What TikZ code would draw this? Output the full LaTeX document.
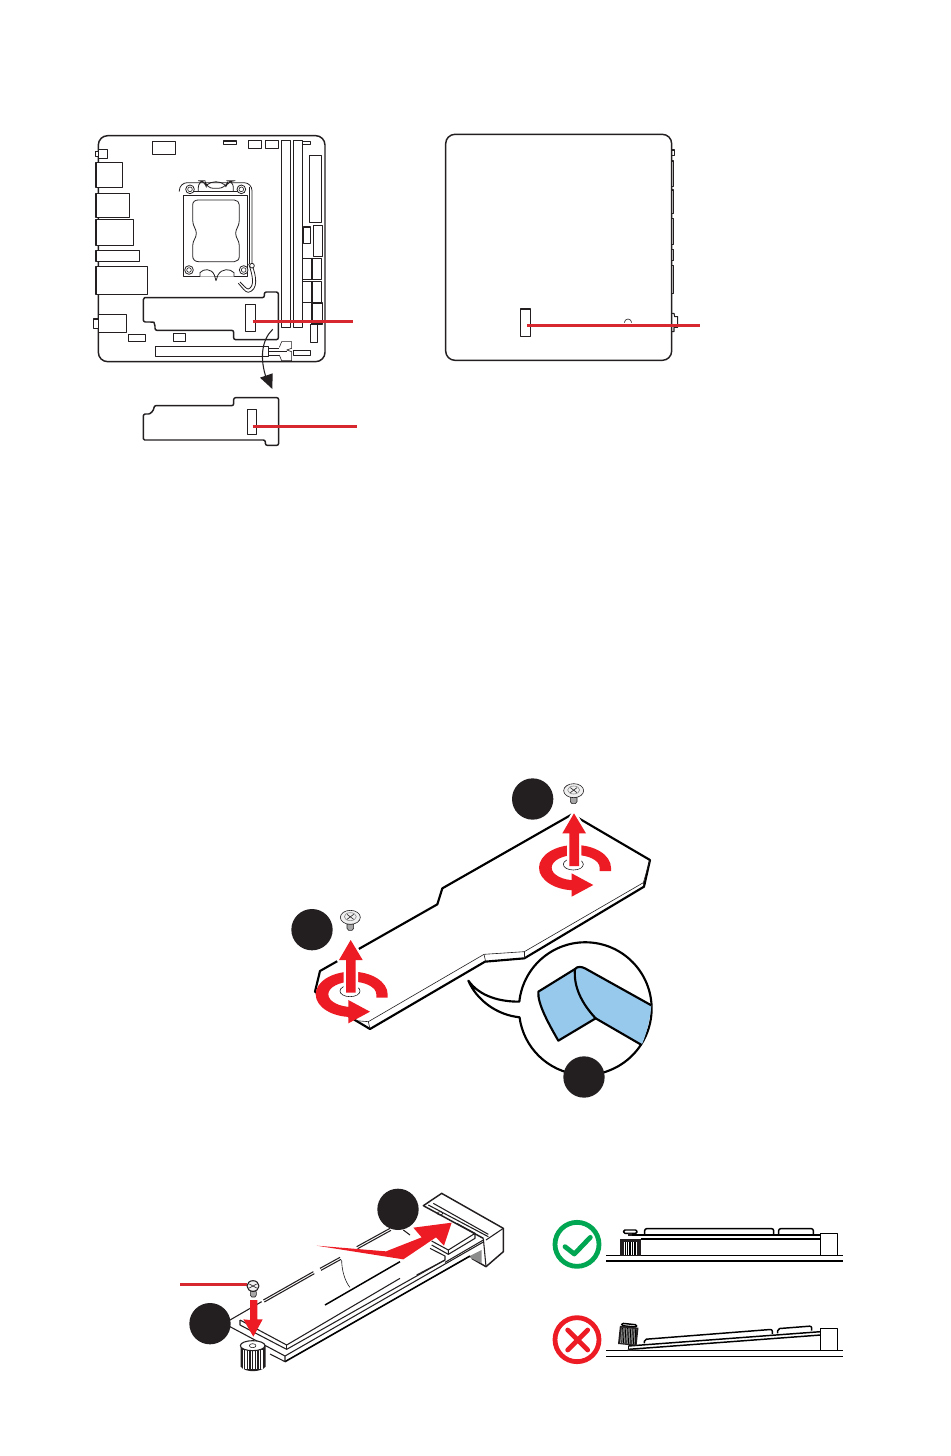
\documentclass[tikz,border=0pt]{standalone}
\definecolor{mred}{HTML}{ED1C24}
\definecolor{leadred}{HTML}{D7282F}
\definecolor{mblue}{HTML}{97C9EC}
\definecolor{mgreen}{HTML}{00A651}
\definecolor{mdark}{HTML}{231F20}
\begin{document}
\begin{tikzpicture}[x=0.75pt,y=-0.75pt,line join=round]
  \tikzstyle{outline}=[draw=mdark,line width=1.1pt]
  \tikzstyle{part}=[draw=mdark,line width=0.8pt]
  \tikzstyle{sock}=[draw=mdark,line width=0.6pt]
  \tikzstyle{thin}=[draw=mdark,line width=0.45pt]
  \tikzstyle{plate}=[draw=black,line width=1.6pt]
  \tikzstyle{leader}=[draw=leadred,line width=2pt]
  \tikzstyle{badge}=[circle,fill=mdark,minimum size=31pt,inner sep=0pt]
  \tikzstyle{redfill}=[fill=mred]
  \tikzstyle{halo}=[fill=mred,preaction={draw=white,line width=3.5pt}]
  \tikzstyle{base}=[draw=black,line width=1.1pt]
  \useasboundingbox (0,0) rectangle (950,1456);

  % board, front
  \begin{scope}[shift={(80,120)},scale=1/3]
    \draw[outline,rounded corners=7pt] (55,47) rectangle (735,725);
    \foreach \xa/\ya/\xb/\yb in {217/64/287/103,431/63/470/73,506/61/545/85,556/61/595/85,
      605/61/632/622,641/61/668/622,668/64/692/73,688/106/724/307,
      670/321/692/370,701/316/728/409,668/415/696/478,696/415/724/478,
      668/485/696/547,696/485/724/547,696/549/728/612,692/614/713/668,
      46/95/55/109,55/88/82/115,48/127/128/202,48/220/149/293,48/298/161/377,
      48/391/179/425,48/439/203/523,40/597/55/626,55/583/140/637,
      145/644/197/665,280/640/317/665,226/680/566/710,640/691/692/707,
      496/554/526/635}
      \draw[part,fill=white] (\xa,\ya) rectangle (\xb,\yb);
    % socket
    \draw[sock] (311,470) -- (311,225) -- (502,225) -- (502,470) -- cycle;
    \draw[sock,rounded corners=6pt] (298,215) -- (298,188) -- (516,188) -- (516,435);
    \draw[sock] (508,200) -- (508,432);
    \draw[sock] (320,215) -- (490,215);
    \draw[sock,rounded corners=5pt] (355,215) -- (355,182) -- (375,182) -- (380,205) -- (435,205) -- (445,182) -- (460,182) -- (460,215);
    \draw[sock] (380,195) .. controls (395,182) and (420,182) .. (435,195);
    \draw[sock] (338,255) .. controls (338,245) and (345,240) .. (355,240) -- (463,240)
      .. controls (472,240) and (478,247) .. (478,255) -- (478,300)
      .. controls (478,320) and (467,325) .. (467,340) .. controls (467,355) and (478,360) .. (478,378)
      -- (478,408) .. controls (478,418) and (472,425) .. (463,425) -- (355,425)
      .. controls (345,425) and (338,418) .. (338,408) -- (338,378)
      .. controls (338,360) and (349,355) .. (349,340) .. controls (349,325) and (338,320) .. (338,300) -- cycle;
    \foreach \c in {(330,208),(484,208),(327,450),(491,450)}{
      \draw[sock,fill=white] \c circle (13);
      \draw[thin] \c circle (7);
    }
    \draw[sock,fill=white] (360,470) -- (360,458) .. controls (370,445) and (395,445) .. (403,465) -- (408,482) -- (414,465)
      .. controls (425,445) and (450,445) .. (462,458) -- (462,470);
    \draw[sock] (516,435) .. controls (530,470) and (535,510) .. (505,517) .. controls (495,517) and (485,500) .. (475,490);
    \draw[sock] (506,432) .. controls (518,465) and (525,500) .. (505,507) .. controls (498,507) and (490,495) .. (480,486);
    \draw[sock,fill=white] (516,437) circle (7);
    % chipset link
    \draw[thin] (598,682) -- (605,665) -- (635,665) -- (635,685) -- (620,690) -- (635,695) -- (635,722) -- (605,722) -- (598,705);
    \draw[thin] (566,685) -- (598,685);
    \draw[thin] (566,695) -- (620,695);
    \draw[thin] (566,705) -- (598,705);
    % shield on board
    \draw[outline,fill=none,rounded corners=1.5pt] (190,606) -- (190,545) .. controls (190,538) and (194,533) .. (200,533)
      -- (553,533) -- (553,516) -- (595,516) -- (595,659) -- (461,659) -- (461,631) -- (225,631) -- (225,612)
      .. controls (222,607) and (215,606) .. (205,606) -- cycle;
    % shield taken off
    \draw[outline,rounded corners=1.5pt] (190,882) -- (190,950) .. controls (190,956) and (194,960) .. (200,960)
      -- (556,960) -- (556,976) -- (596,976) -- (596,833) -- (461,833) -- (461,857) -- (222,857)
      .. controls (222,870) and (212,882) .. (200,882) -- cycle;
    \draw[part] (502,868) rectangle (530,943);
    % arrow to removed shield
    \coordinate (liftA) at (578,628);
    \coordinate (liftB) at (560,778);
    \draw[part] (liftA) .. controls (545,660) and (538,715) .. (liftB);
    \fill[mdark] (540,773) -- (578,760) -- (577,807) -- cycle;
    \coordinate (leadA1) at (518,604);
    \coordinate (leadA2) at (820,604);
    \coordinate (leadB1) at (518,919);
    \coordinate (leadB2) at (832,919);
    \draw[leader] (leadA1) -- (leadA2);
    \draw[leader] (leadB1) -- (leadB2);
  \end{scope}

  % board, back
  \begin{scope}[shift={(430,120)},scale=1/3]
    \draw[outline,rounded corners=7pt] (47,43) rectangle (725,721);
    \draw[part] (271,567) rectangle (302,650);
    \draw[part] (725,90) -- (734,90) -- (734,107) -- (725,107);
    \foreach \ya/\yb in {123/200,210/280,295/373,388/422,436/520}
      \draw[part] (725,\ya) -- (730,\ya) -- (730,\yb) -- (725,\yb);
    \draw[part] (725,580) -- (732,580) -- (734,590) -- (743,590) -- (743,622) -- (732,622) -- (732,635) -- (725,635);
    \draw[thin] (583,608) arc[start angle=180,end angle=360,radius=11];
    \coordinate (leadC1) at (291,616);
    \coordinate (leadC2) at (810,616);
    \draw[leader] (leadC1) -- (leadC2);
  \end{scope}

  % removing the shield
  \begin{scope}[shift={(280,770)},scale=1/3]
    \draw[plate,fill=white] (120,603) -- (472,403) -- (487,355) -- (876,133) -- (1110,270) -- (1092,350)
      -- (733,565) -- (615,575) -- (270,777) -- (228,752) -- (205,738) -- (105,665) -- cycle;
    \draw[thin] (265,755) -- (612,553) -- (733,545) -- (1090,338) -- (1110,270);
    \draw[thin] (228,752) -- (265,755) -- (270,777);
    \draw[thin] (612,553) -- (617,575);
    \draw[thin] (733,545) -- (733,565);
    \draw[thin] (1090,338) -- (1092,350);
    \foreach \dx/\dy in {0/0,-670/380}{
      \begin{scope}[shift={(\dx,\dy)}]
        \draw[thin] (880,283) ellipse (30 and 17);
        \fill[redfill] (993,303) -- (993,293) arc[start angle=0,end angle=-270,x radius=108,y radius=68]
          -- (875,361) -- (875,380) -- (940,345) -- (875,310) -- (875,331) -- (887,331)
          arc[start angle=-270,end angle=0,x radius=72,y radius=38] -- (959,303) -- cycle;
        \path[halo] (868,288) -- (868,190) -- (847,190) -- (882,130) -- (918,190) -- (897,190) -- (897,288) -- cycle;
        \draw[thin,fill=black!35] (871,82) -- (871,95) -- (876,101) -- (886,101) -- (891,95) -- (891,82) -- cycle;
        \draw[thin,fill=black!6] (881,62) ellipse (30 and 21);
        \draw[draw=black!45,line width=0.45pt] (881,60) ellipse (18 and 12);
        \draw[thin] (871,53) -- (891,68);
        \draw[thin] (891,53) -- (871,68);
      \end{scope}
    }
    \node[badge] (badgeR) at (758,87) {};
    \node[badge] (badgeL) at (96,479) {};
    % zoom bubble
    \draw[plate,fill=white] (718,695) arc[start angle=186,end angle=532.5,radius=199]
      .. controls (650,735) and (590,690) .. (565,632) .. controls (600,680) and (660,695) .. (718,695) -- cycle;
    \fill[mblue] (885,597) .. controls (892,588) and (905,590) .. (915,595) -- (1114,706)
      .. controls (1110,750) and (1100,790) .. (1085,825) -- (947,745) .. controls (905,700) and (880,650) .. (885,597) -- cycle;
    \draw[plate,fill=mblue] (775,665) -- (885,597) .. controls (880,650) and (905,700) .. (947,745) -- (835,812)
      .. controls (805,760) and (772,700) .. (775,665) -- cycle;
    \draw[plate] (885,597) .. controls (892,588) and (905,590) .. (915,595) -- (1114,706);
    \draw[plate] (947,745) -- (1085,825);
    \node[badge] (badgeC) at (912,921) {};
  \end{scope}

  % installing the drive
  \begin{scope}[shift={(170,1180)},scale=1/3]
    % socket block
    \fill[white] (760,77) -- (815,40) -- (1000,145) -- (1000,215) -- (948,260) -- (940,175) -- cycle;
    \draw[outline] (940,175) -- (760,77) -- (815,40) -- (1000,145) -- (1000,215) -- (948,260) -- (905,235);
    \draw[part] (948,180) -- (1000,145);
    \draw[part] (940,175) -- (948,260);
    \draw[part] (775,75) -- (955,170);
    \draw[part] (790,70) -- (955,163);
    \fill[black!45] (895,230) -- (935,210) -- (935,250) -- cycle;
    \draw[thin] (810,100) ellipse (8 and 5);
    % drive end
    \draw[part] (860,130) -- (915,160) -- (835,210) -- (835,223) -- (915,175) -- (915,160);
    \draw[part] (835,210) -- (785,183);
    \draw[part] (785,195) -- (835,223);
    \draw[part] (780,205) -- (825,228) -- (825,240) -- (740,285);
    \draw[part] (940,180) -- (825,247);
    % bracket
    \draw[plate,line width=1.2pt] (345,545) -- (900,228);
    \draw[part] (180,440) -- (345,528) -- (345,545) -- (300,522);
    \draw[part] (345,528) -- (940,186);
    \draw[part] (210,420) -- (210,435) -- (350,508) -- (825,240);
    \draw[part] (210,420) -- (350,495) -- (690,295);
    \draw[part] (350,495) -- (350,508);
    \draw[part] (180,420) -- (275,365);
    \draw[plate,line width=1.1pt] (465,375) -- (690,245);
    \draw[part] (280,360) -- (430,275);
    \draw[part] (283,366) -- (433,281);
    \draw[part] (450,265) -- (510,232);
    \draw[part] (453,271) -- (513,238);
    \draw[part] (560,200) -- (660,145);
    \draw[part] (563,206) -- (663,151);
    \draw[thin] (515,240) .. controls (515,270) and (525,305) .. (540,322);
    \draw[part] (700,150) -- (720,165);
    % standoff
    \fill[mdark] (212,497) -- (212,560) .. controls (225,578) and (272,578) .. (287,560) -- (287,497) -- cycle;
    \foreach \x in {220,228,...,280}
      \draw[white,line width=0.8pt] (\x,510) -- (\x,566);
    \draw[part,fill=white] (248,497) ellipse (37 and 15);
    \draw[thin] (248,497) ellipse (10 and 6);
    % big arrow
    \fill[redfill] (440,197) -- (648,214) -- (755,172) -- (730,143) -- (845,128) -- (822,197) -- (798,172) -- (700,238) -- cycle;
    \fill[redfill] (240,420) -- (240,360) -- (262,360) -- (262,418) -- (278,418) -- (250,470) -- (220,418) -- cycle;
    \coordinate (leadD1) at (30,313);
    \coordinate (leadD2) at (230,313);
    \draw[leader] (leadD1) -- (leadD2);
    \draw[thin,fill=black!35] (241,335) -- (241,345) -- (245,351) -- (255,351) -- (259,345) -- (259,335) -- cycle;
    \draw[part,fill=black!6] (249,318) ellipse (18 and 16);
    \draw[thin] (238,312) -- (260,324);
    \draw[thin] (260,312) -- (238,324);
    \node[badge] (badgeT) at (684,88) {};
    \node[badge] (badgeS) at (120,431) {};
  \end{scope}

  % right and wrong seating
  \begin{scope}[shift={(545,1210)},scale=1/3]
    \draw[mgreen,line width=3.6pt] (96,103) circle (66);
    \draw[mgreen,line width=3.6pt,line cap=round] (60,110) -- (88,132) -- (136,82);
    \draw[mred,line width=3.6pt] (96,389) circle (66);
    \draw[mred,line width=3.6pt,line cap=round] (68,360) -- (128,420);
    \draw[mred,line width=3.6pt,line cap=round] (128,360) -- (68,420);
    \foreach \y in {137,153,422,440}
      \draw[base] (183,\y) -- (893,\y);
    % seated
    \draw[base] (827,137) -- (827,71) -- (877,71) -- (877,137);
    \draw[base] (250,75) -- (827,75);
    \draw[base] (287,87) -- (827,87);
    \fill[mdark] (226,88) rectangle (287,137);
    \fill[white] (238,97) rectangle (275,135);
    \foreach \x in {242,247,...,272}
      \draw[black,line width=0.6pt] (\x,97) -- (\x,135);
    \draw[base,rounded corners=1pt] (236,60) rectangle (276,70);
    \fill[mdark] (250,70) rectangle (262,78);
    \draw[base,rounded corners=1.5pt] (299,72) -- (299,56) -- (686,56) -- (686,72);
    \draw[base,rounded corners=1.5pt] (701,72) -- (701,56) -- (805,56) -- (805,72);
    % tilted
    \draw[base] (827,422) -- (827,355) -- (877,355) -- (877,422);
    \draw[base] (250,408) -- (827,365);
    \draw[base] (250,418) -- (827,375);
    \draw[base] (250,408) -- (250,418);
    \draw[base,rounded corners=1.5pt] (298,400) -- (298,388) -- (682,358) -- (682,372);
    \draw[base,rounded corners=1.5pt] (698,370) -- (698,356) -- (800,348) -- (800,362);
    \fill[mdark] (248,418) -- (300,420) -- (248,423) -- cycle;
    \begin{scope}[shift={(250,375)},rotate=-6]
      \draw[base,rounded corners=1pt] (-23,-33) rectangle (22,-26);
      \fill[mdark] (-28,-25) rectangle (28,30);
      \fill[black!35] (-22,-20) rectangle (22,26);
      \foreach \x in {-20,-15,...,20}
        \draw[black,line width=0.6pt] (\x,-20) -- (\x+3,26);
    \end{scope}
  \end{scope}
\end{tikzpicture}
\end{document}
